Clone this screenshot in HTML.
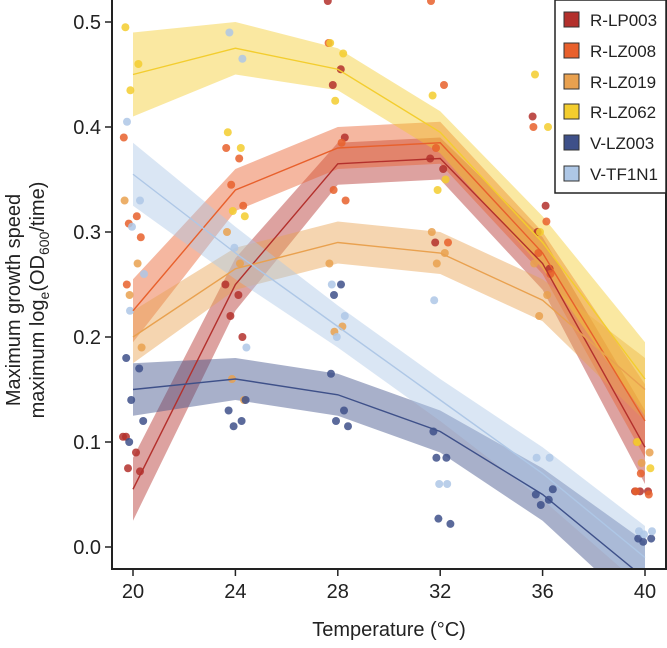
<!DOCTYPE html>
<html><head><meta charset="utf-8"><style>
body{margin:0;background:#fff;font-family:"Liberation Sans",sans-serif}
svg text{font-family:"Liberation Sans",sans-serif}
</style></head><body>
<svg id="chart" width="667" height="643" viewBox="0 0 667 643">
<defs><clipPath id="clip"><rect x="113" y="0" width="552" height="569"/></clipPath></defs>
<g id="plot" clip-path="url(#clip)"></g>
<g id="axes"></g>
</svg>
<script>
const temps=[20,24,28,32,36,40];
const yTicks=[0.0,0.1,0.2,0.3,0.4,0.5];
const names=["R-LP003","R-LZ008","R-LZ019","R-LZ062","V-LZ003","V-TF1N1"];
const colors=["#b3302c","#e8602c","#e9a14f","#f3cd2e","#3e5089","#aec7e6"];
const fitLP003=[0.055,0.25,0.365,0.37,0.27,0.095];
const fitLZ008=[0.225,0.34,0.38,0.385,0.28,0.12];
const fitLZ019=[0.2,0.265,0.29,0.28,0.235,0.15];
const fitLZ062=[0.45,0.475,0.455,0.395,0.29,0.16];
const fitVLZ003=[0.15,0.16,0.145,0.11,0.05,-0.03];
const fitTF1N1=[0.355,0.28,0.21,0.14,0.07,-0.01];
const bandLP003=[0.03,0.025,0.02,0.02,0.025,0.035];
const bandLZ008=[0.03,0.02,0.02,0.02,0.02,0.035];
const bandLZ019=[0.025,0.02,0.02,0.02,0.02,0.03];
const bandLZ062=[0.04,0.025,0.02,0.02,0.025,0.035];
const bandVLZ003=[0.025,0.02,0.02,0.02,0.025,0.035];
const bandTF1N1=[0.03,0.025,0.02,0.02,0.025,0.03];
const ptsLP003=[[0.105,0.09,0.075,0.072,0.105],[0.25,0.24,0.22,0.2],[0.52,0.455,0.44,0.39],[0.37,0.36,0.29],[0.41,0.325,0.3,0.265],[0.053,0.053,0.053]];
const ptsLZ008=[[0.39,0.315,0.308,0.295,0.25],[0.38,0.37,0.345,0.325],[0.48,0.385,0.34,0.33],[0.52,0.44,0.38,0.29],[0.4,0.31,0.28,0.26],[0.053,0.05,0.07]];
const ptsLZ019=[[0.33,0.27,0.24,0.19],[0.3,0.27,0.16,0.14],[0.27,0.21,0.205],[0.3,0.28,0.27],[0.27,0.24,0.22],[0.1,0.09,0.08]];
const ptsLZ062=[[0.495,0.46,0.435],[0.395,0.38,0.32,0.315],[0.48,0.47,0.425],[0.43,0.35,0.34],[0.45,0.4,0.3],[0.1,0.075]];
const ptsVLZ003=[[0.18,0.17,0.14,0.12,0.1],[0.13,0.12,0.115,0.14],[0.165,0.13,0.12,0.115,0.24,0.25],[0.11,0.085,0.027,0.022,0.085],[0.05,0.045,0.04,0.055],[0.008,0.008,0.005]];
const ptsTF1N1=[[0.405,0.33,0.305,0.26,0.225],[0.49,0.465,0.285,0.19],[0.25,0.22,0.2],[0.235,0.06,0.06],[0.085,0.085],[0.015,0.015,0.012]];
const fits=[fitLP003,fitLZ008,fitLZ019,fitLZ062,fitVLZ003,fitTF1N1];
const bands=[bandLP003,bandLZ008,bandLZ019,bandLZ062,bandVLZ003,bandTF1N1];
const pts=[ptsLP003,ptsLZ008,ptsLZ019,ptsLZ062,ptsVLZ003,ptsTF1N1];
const NS="http://www.w3.org/2000/svg";
const xS=t=>133+(t-20)*25.6;
const yS=v=>547-v*1050;
function mk(tag,attrs,parent){const e=document.createElementNS(NS,tag);for(const k in attrs)e.setAttribute(k,attrs[k]);parent.appendChild(e);return e;}
const plot=document.getElementById('plot'),axes=document.getElementById('axes');
const jit=[-8,5,-3,9,-5,2];
fits.forEach((f,s)=>{
  let up=temps.map((t,i)=>xS(t)+','+yS(f[i]+bands[s][i]));
  let lo=temps.map((t,i)=>xS(t)+','+yS(f[i]-bands[s][i])).reverse();
  const b=mk('polygon',{points:up.concat(lo).join(' '),fill:colors[s],'fill-opacity':0.45},plot);
  
  
});
pts.forEach((grp,s)=>{grp.forEach((vals,i)=>{vals.forEach((v,j)=>{
  const c=mk('circle',{cx:xS(temps[i])+jit[j%6]+(s-2.5)*0.8,cy:yS(v),r:4,fill:colors[s],'fill-opacity':0.85},plot);
  
  
});});});
fits.forEach((f,s)=>{
  const l=mk('polyline',{points:temps.map((t,i)=>xS(t)+','+yS(f[i])).join(' '),fill:'none',stroke:colors[s],'stroke-width':1.4},plot);
  
  
});
const fr=mk('rect',{x:112,y:-2,width:554,height:571,fill:'none',stroke:'#222','stroke-width':2},axes);


yTicks.forEach(v=>{
  mk('line',{x1:105,x2:112,y1:yS(v),y2:yS(v),stroke:'#222','stroke-width':1.5},axes);
  const t=mk('text',{x:101,y:yS(v)+7,'text-anchor':'end','font-size':20,fill:'#222'},axes);
  t.textContent=v.toFixed(1);
  
  
});
temps.forEach(tv=>{
  mk('line',{x1:xS(tv),x2:xS(tv),y1:569,y2:576,stroke:'#222','stroke-width':1.5},axes);
  const t=mk('text',{x:xS(tv),y:598,'text-anchor':'middle','font-size':20,fill:'#222'},axes);
  t.textContent=tv;
  
  
});
</script>
<svg style="position:absolute;left:0;top:0" width="667" height="643">
<text x="389" y="636" text-anchor="middle" font-size="20" fill="#222">Temperature (°C)</text>
<g transform="translate(0,300) rotate(-90)">
<text x="0" y="20" text-anchor="middle" font-size="20" fill="#222">Maximum growth speed</text>
<text x="0" y="44" text-anchor="middle" font-size="20" fill="#222">maximum log<tspan font-size="14" dy="5">e</tspan><tspan dy="-5">(OD</tspan><tspan font-size="14" dy="5">600</tspan><tspan dy="-5">/time)</tspan></text>
</g>
<g>
<rect x="555" y="0" width="111" height="193" fill="#fff" stroke="#222" stroke-width="1.5"/>
<g><rect x="564" y="12" width="15" height="15" fill="#b3302c" stroke="#333"/><text x="590" y="26" font-size="17" fill="#222">R-LP003</text></g>
<g><rect x="564" y="43" width="15" height="15" fill="#e8602c" stroke="#333"/><text x="590" y="57" font-size="17" fill="#222">R-LZ008</text></g>
<g><rect x="564" y="74" width="15" height="15" fill="#e9a14f" stroke="#333"/><text x="590" y="88" font-size="17" fill="#222">R-LZ019</text></g>
<g><rect x="564" y="104" width="15" height="15" fill="#f3cd2e" stroke="#333"/><text x="590" y="118" font-size="17" fill="#222">R-LZ062</text></g>
<g><rect x="564" y="135" width="15" height="15" fill="#3e5089" stroke="#333"/><text x="590" y="149" font-size="17" fill="#222">V-LZ003</text></g>
<g><rect x="564" y="166" width="15" height="15" fill="#aec7e6" stroke="#333"/><text x="590" y="180" font-size="17" fill="#222">V-TF1N1</text></g>
</g>
</svg>
</body></html>
